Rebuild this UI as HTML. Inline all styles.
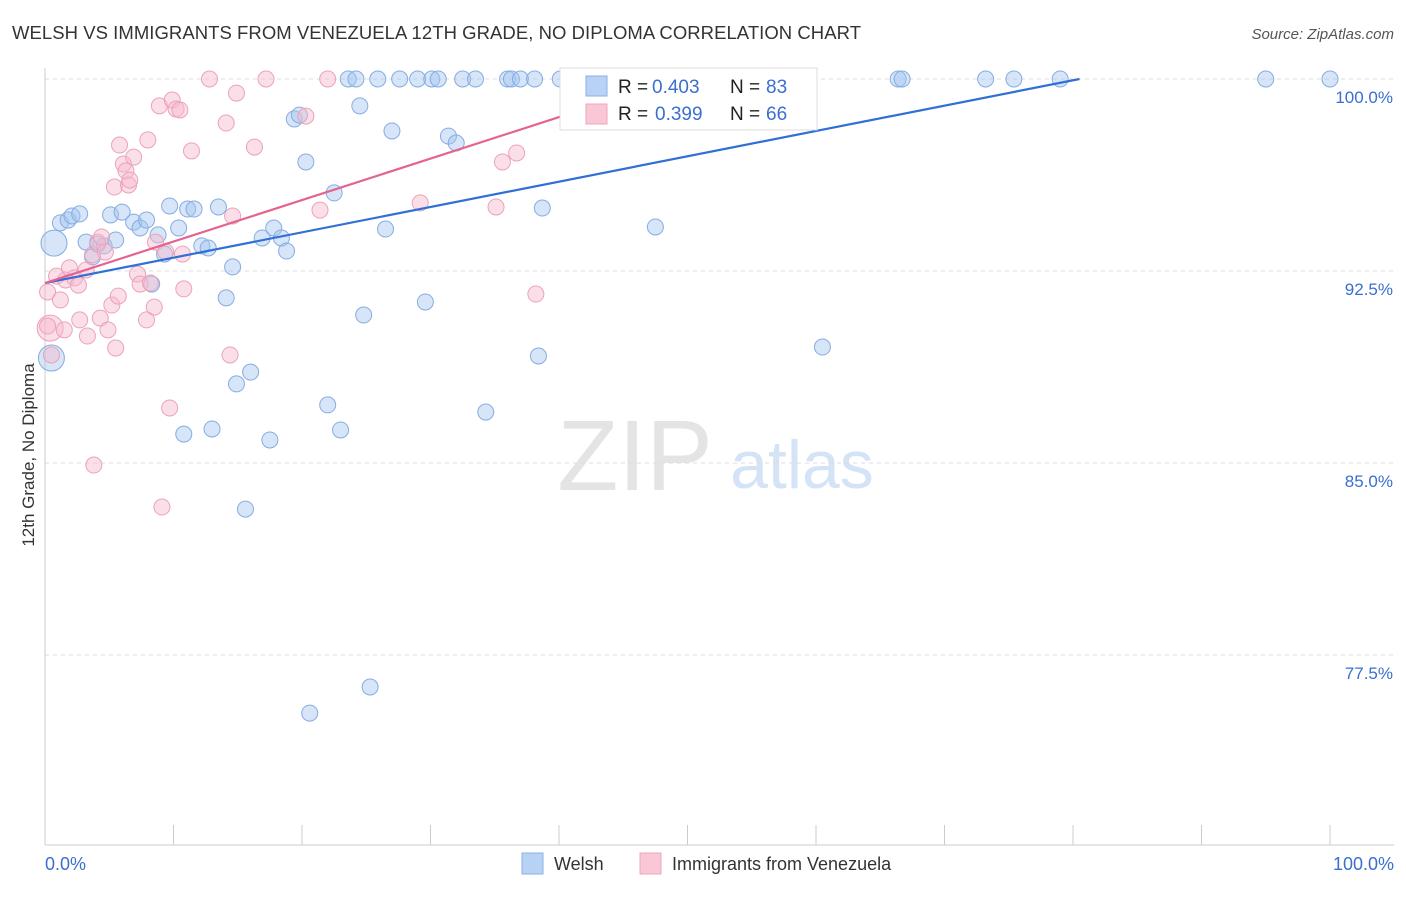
<!DOCTYPE html>
<html><head><meta charset="utf-8"><style>
body{margin:0;background:#fff;font-family:"Liberation Sans",sans-serif;}
svg text{font-family:"Liberation Sans",sans-serif;}
</style></head><body>
<svg id="c" width="1406" height="892">
<text x="12" y="39" font-size="18.5" fill="#333" textLength="849">WELSH VS IMMIGRANTS FROM VENEZUELA 12TH GRADE, NO DIPLOMA CORRELATION CHART</text>
<text x="1394" y="39" font-size="15" fill="#555" font-style="italic" text-anchor="end">Source: ZipAtlas.com</text>
<text transform="translate(34,455) rotate(-90)" font-size="17" fill="#333" text-anchor="middle">12th Grade, No Diploma</text>
<g>
<text x="635" y="490" font-size="100" font-family="Liberation Serif" fill="#e4e4e4" text-anchor="middle">ZIP</text>
<text x="802" y="488" font-size="68" fill="#d4e3f5" text-anchor="middle">atlas</text>
</g>
<g id="grid"></g><g id="pts"></g><g id="lines"></g>
<g>
<rect x="560" y="68" width="257" height="62" fill="#fff" stroke="#ddd"/>
<rect x="586" y="76" width="21" height="20" fill="#b8d2f5" stroke="#8ab0e6"/>
<rect x="586" y="104" width="21" height="20" fill="#f9c7d6" stroke="#eca7bd"/>
<text x="618" y="93" font-size="19" fill="#222">R = </text><text x="652" y="93" font-size="19" fill="#3a6fd0">0.403</text>
<text x="730" y="93" font-size="19" fill="#222">N = </text><text x="766" y="93" font-size="19" fill="#3a6fd0">83</text>
<text x="618" y="120" font-size="19" fill="#222">R = </text><text x="655" y="120" font-size="19" fill="#3a6fd0">0.399</text>
<text x="730" y="120" font-size="19" fill="#222">N = </text><text x="766" y="120" font-size="19" fill="#3a6fd0">66</text>
</g>
<g>
<rect x="522" y="853" width="21" height="21" fill="#b8d2f5" stroke="#8ab0e6"/>
<text x="554" y="870" font-size="18" fill="#333">Welsh</text>
<rect x="640" y="853" width="21" height="21" fill="#f9c7d6" stroke="#eca7bd"/>
<text x="672" y="870" font-size="18" fill="#333">Immigrants from Venezuela</text>
</g>
<text x="45" y="870" font-size="18" fill="#3a6fd0">0.0%</text>
<text x="1394" y="870" font-size="18" fill="#3a6fd0" text-anchor="end">100.0%</text>
</svg>
<script>
const yTicks=[100,92.5,85,77.5];
const xTicks=[0,10,20,30,40,50,60,70,80,90,100];
const welshX=[0.7,1.2,1.8,2.1,2.7,3.2,3.7,4.1,4.6,5.1,5.5,6.0,6.9,7.4,7.9,8.3,8.8,9.3,9.7,10.4,11.1,11.6,12.2,12.7,13.5,14.1,14.6,14.9,16.0,16.9,17.5,17.8,18.4,18.8,10.8,13.0,15.6,19.4,19.8,20.3,20.6,22.0,22.5,23.0,23.6,24.2,24.5,24.8,25.3,25.9,26.5,27.0,27.6,29.0,29.6,30.1,30.6,31.4,32.0,32.5,33.5,34.3,36.0,36.3,37.0,38.1,38.4,38.7,40.1,41.3,45.5,47.5,54.2,60.5,66.4,66.7,73.2,75.4,79.0,95.0,100,0.5];
const welshY=[93.59,94.38,94.49,94.65,94.73,93.63,93.05,93.55,93.48,94.69,93.71,94.80,94.41,94.18,94.49,91.99,93.91,93.16,95.04,94.18,94.92,94.92,93.48,93.40,95.00,91.45,92.66,88.09,88.55,93.79,85.90,94.18,93.79,93.28,86.13,86.33,83.20,98.44,98.59,96.76,75.23,87.27,95.55,86.29,100,100,98.95,90.78,76.25,100,94.14,97.97,100,100,91.29,100,100,97.77,97.50,100,100,86.99,100,100,100,100,89.18,94.96,100,100,100,94.22,100,89.53,100,100,100,100,100,100,100,89.10];
const welshSize=welshX.map((v,i)=>i===0||i===welshX.length-1?13:8);
const venX=[0.2,0.4,0.5,0.9,1.2,1.5,1.6,1.9,2.3,2.6,2.7,3.2,3.3,3.7,3.8,4.1,4.3,4.4,4.7,4.9,5.2,5.4,5.5,5.7,5.8,6.1,6.3,6.5,6.6,6.9,7.2,7.4,7.9,8.0,8.2,8.5,8.6,8.9,9.1,9.4,9.7,9.9,10.2,10.5,10.7,10.8,11.4,12.8,14.1,14.4,14.6,14.9,16.3,17.2,20.3,21.4,22.0,29.2,35.1,35.6,36.7,38.2,41.3,45.8,0.2];
const venY=[91.68,90.27,89.22,92.30,91.37,90.20,92.15,92.62,92.23,91.95,90.59,92.54,89.96,93.13,84.92,93.63,90.66,93.83,93.24,90.20,91.17,95.78,89.49,91.52,97.42,96.68,96.41,95.86,96.05,96.95,92.38,91.99,90.59,97.62,92.03,91.09,93.63,98.95,83.28,93.24,87.15,99.18,98.83,98.79,93.16,91.80,97.19,100,98.28,89.22,94.65,99.45,97.34,100,98.55,94.88,100,95.16,95.00,96.76,97.11,91.60,100,100,90.35];
const venSize=venX.map((v,i)=>i===1?13:8);
const welshTrend=[92.03,0.099];
const venTrend=[92.03,0.162];
const X=v=>45+v*12.85, Y=v=>79+(100-v)*25.6;
const NS='http://www.w3.org/2000/svg';
function mk(t,a,p){const e=document.createElementNS(NS,t);for(const k in a)e.setAttribute(k,a[k]);p.appendChild(e);return e;}
const g=document.getElementById('grid');
yTicks.forEach(t=>{
 const l=mk('line',{x1:45,x2:1394,y1:Y(t),y2:Y(t),stroke:'#ddd','stroke-dasharray':'4,4'},g);
 
 
 const tx=mk('text',{x:1393,y:Y(t)+24,'font-size':17,fill:'#3a6fd0','text-anchor':'end'},g);tx.textContent=t.toFixed(1)+'%';
 
 
});
mk('line',{x1:45,x2:45,y1:68,y2:845,stroke:'#ccc'},g);
mk('line',{x1:45,x2:1394,y1:845,y2:845,stroke:'#ccc'},g);
xTicks.forEach(t=>{const l=mk('line',{x1:X(t),x2:X(t),y1:825,y2:845,stroke:'#ccc'},g);
 
 });
const p=document.getElementById('pts');
welshX.forEach((x,i)=>{const c=mk('circle',{cx:X(x),cy:Y(welshY[i]),r:welshSize[i],fill:'rgba(165,198,240,0.45)',stroke:'#86ace2','stroke-width':1},p);
 
 });
venX.forEach((x,i)=>{const c=mk('circle',{cx:X(x),cy:Y(venY[i]),r:venSize[i],fill:'rgba(247,185,205,0.45)',stroke:'#eba2bb','stroke-width':1},p);
 
 });
const L=document.getElementById('lines');
let x2=(100-welshTrend[0])/welshTrend[1];
let l1=mk('line',{x1:X(0),y1:Y(welshTrend[0]),x2:X(x2),y2:Y(100),stroke:'#2f6fd6','stroke-width':2.2},L);


let l2=mk('line',{x1:X(0),y1:Y(venTrend[0]),x2:X(40.1),y2:Y(venTrend[0]+venTrend[1]*40.1),stroke:'#e4648f','stroke-width':2.2},L);


</script>
</body></html>
